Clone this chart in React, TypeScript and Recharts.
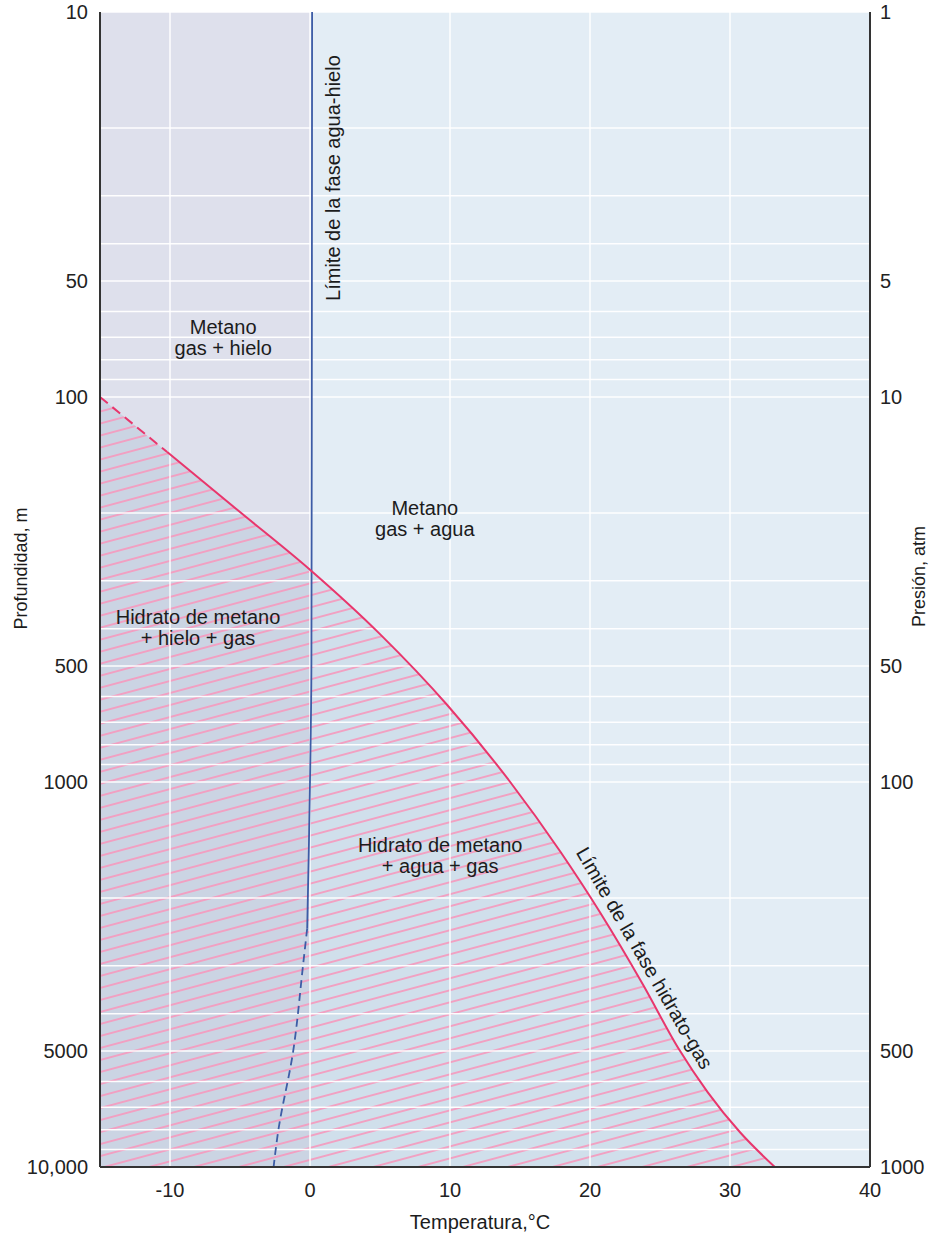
import React from 'react';
import {
  ComposedChart,
  XAxis,
  YAxis,
  CartesianGrid,
  Area,
  Line,
  ReferenceArea,
  ReferenceDot,
} from 'recharts';

const FONT = '"Liberation Sans", Arial, Helvetica, sans-serif';

// Temperature axis (°C)
const tempTicks = [-10, 0, 10, 20, 30, 40];

// Depth axis (m): every log gridline, with a labelled subset
const depthGrid = [
  10, 20, 30, 40, 50, 60, 70, 80, 90,
  100, 200, 300, 400, 500, 600, 700, 800, 900,
  1000, 2000, 3000, 4000, 5000, 6000, 7000, 8000, 9000, 10000,
];
const depthLabels = [10, 50, 100, 500, 1000, 5000, 10000];

// Pressure axis (atm)
const pressureTicks = [1, 5, 10, 50, 100, 500, 1000];

// Hydrate–gas phase boundary (temperature °C, depth m)
const hydrateDashed = [
  { t: -15, d: 100 },
  { t: -10.2, d: 139 },
];
const hydrateSolid = [
  { t: -10.2, d: 139 },
  { t: -5, d: 199 },
  { t: 0, d: 281 },
  { t: 5, d: 413 },
  { t: 9.8, d: 631 },
  { t: 14.3, d: 1000 },
  { t: 17.9, d: 1520 },
  { t: 20.7, d: 2176 },
  { t: 23.8, d: 3367 },
  { t: 26.3, d: 4909 },
  { t: 28.4, d: 6388 },
  { t: 30.7, d: 8113 },
  { t: 33.2, d: 10000 },
];
const hydrateZone = [...hydrateDashed, ...hydrateSolid.slice(1)];

// Water–ice phase boundary
const iceSolid = [
  { t: 0.15, d: 10 },
  { t: 0.1, d: 500 },
  { t: 0, d: 1000 },
  { t: -0.1, d: 1600 },
  { t: -0.2, d: 2400 },
];
const iceDashed = [
  { t: -0.2, d: 2400 },
  { t: -0.5, d: 3000 },
  { t: -1.2, d: 5000 },
  { t: -2.3, d: 8200 },
  { t: -2.6, d: 10000 },
];

// Phase-field names
const regionNotes = [
  { t: -6.2, d: 70, lines: ['Metano', 'gas + hielo'] },
  { t: 8.2, d: 207, lines: ['Metano', 'gas + agua'] },
  { t: -8, d: 396, lines: ['Hidrato de metano', '+ hielo + gas'] },
  { t: 9.3, d: 1556, lines: ['Hidrato de metano', '+ agua + gas'] },
];

// Boundary captions
const boundaryNotes = [
  { t: 1.64, d: 27, lines: ['Límite de la fase agua-hielo'], angle: -90 },
  { t: 23.9, d: 2865, lines: ['Límite de la fase hidrato-gas'], angle: 60 },
];

const TEXT = '#1c1c1c';
const HYDRATE = '#e8366c';
const ICE = '#3d5ca6';
const BORDER = '#333';

const NoteText = (props: any) => {
  const { viewBox, lines, angle = 0, size = 20 } = props;
  if (!viewBox) return null;
  const cx = viewBox.x + (viewBox.width || 0) / 2;
  const cy = viewBox.y + (viewBox.height || 0) / 2;
  const lh = 21;
  return (
    <text
      x={cx}
      y={cy}
      textAnchor="middle"
      dominantBaseline="central"
      fontSize={size}
      fontFamily={FONT}
      fill={TEXT}
      transform={angle ? `rotate(${angle} ${cx} ${cy})` : undefined}
    >
      {lines.map((l: string, i: number) => (
        <tspan
          key={i}
          x={cx}
          y={cy + (i - (lines.length - 1) / 2) * lh}
          dominantBaseline="central"
        >
          {l}
        </tspan>
      ))}
    </text>
  );
};

const depthTickFormat = (v: number) =>
  depthLabels.includes(v) ? (v === 10000 ? '10,000' : String(v)) : '';

const DepthTitle = (props: any) => {
  const vb = props.viewBox;
  if (!vb) return null;
  const x = vb.x + 21;
  const y = vb.y + vb.height / 2 - 21;
  return (
    <text
      x={x}
      y={y}
      textAnchor="middle"
      dominantBaseline="central"
      fontSize={18}
      fontFamily={FONT}
      fill={TEXT}
      transform={`rotate(-90 ${x} ${y})`}
    >
      Profundidad, m
    </text>
  );
};

const PressureTitle = (props: any) => {
  const vb = props.viewBox;
  if (!vb) return null;
  const x = vb.x + 49;
  const y = vb.y + vb.height / 2 - 13;
  return (
    <text
      x={x}
      y={y}
      textAnchor="middle"
      dominantBaseline="central"
      fontSize={18}
      fontFamily={FONT}
      fill={TEXT}
      transform={`rotate(-90 ${x} ${y})`}
    >
      Presión, atm
    </text>
  );
};

const TempTitle = (props: any) => {
  const vb = props.viewBox;
  if (!vb) return null;
  const x = vb.x + vb.width / 2 - 5;
  const y = vb.y + 55;
  return (
    <text
      x={x}
      y={y}
      textAnchor="middle"
      dominantBaseline="central"
      fontSize={20}
      fontFamily={FONT}
      fill={TEXT}
    >
      Temperatura,°C
    </text>
  );
};

const tickStyle = { fontSize: 20, fill: '#222', fontFamily: FONT };

export default function App() {
  return (
    <div
      style={{
        position: 'absolute',
        left: 0,
        top: 0,
        width: 930,
        height: 1238,
        background: '#fff',
        overflow: 'hidden',
      }}
    >
      <ComposedChart
        width={930}
        height={1238}
        margin={{ top: 12, right: 0, bottom: 0, left: 0 }}
        style={{ fontFamily: FONT }}
      >
        <defs>
          <pattern
            id="hydrateHatch"
            patternUnits="userSpaceOnUse"
            width="24"
            height="11.6"
            patternTransform="rotate(-15)"
          >
            <rect width="24" height="11.6" fill="#4f86aa" fillOpacity="0.13" />
            <line x1="0" y1="5.8" x2="24" y2="5.8" stroke="#f49cbf" strokeWidth="1.8" />
          </pattern>
        </defs>

        <XAxis
          type="number"
          dataKey="t"
          domain={[-15, 40]}
          allowDataOverflow
          ticks={tempTicks}
          interval={0}
          height={71}
          tickLine={false}
          tickMargin={10}
          tick={tickStyle}
          axisLine={{ stroke: BORDER, strokeWidth: 2 }}
          label={(p: any) => <TempTitle {...p} />}
        />
        <XAxis
          xAxisId="top"
          orientation="top"
          type="number"
          domain={[-15, 40]}
          allowDataOverflow
          height={0}
          tick={false}
          tickLine={false}
          axisLine={{ stroke: '#444', strokeWidth: 2 }}
        />
        <YAxis
          yAxisId="d"
          type="number"
          scale="log"
          domain={[10, 10000]}
          allowDataOverflow
          reversed
          ticks={depthGrid}
          interval={0}
          width={100}
          tickLine={false}
          tickMargin={6}
          tick={tickStyle}
          tickFormatter={depthTickFormat}
          axisLine={{ stroke: BORDER, strokeWidth: 2 }}
          label={(p: any) => <DepthTitle {...p} />}
        />
        <YAxis
          yAxisId="p"
          orientation="right"
          type="number"
          scale="log"
          domain={[1, 1000]}
          allowDataOverflow
          reversed
          ticks={pressureTicks}
          interval={0}
          width={60}
          tickLine={false}
          tickMargin={4}
          tick={{ ...tickStyle, textAnchor: 'start' }}
          axisLine={{ stroke: BORDER, strokeWidth: 2 }}
          label={(p: any) => <PressureTitle {...p} />}
        />

        {/* Field backgrounds: below and above the freezing point */}
        <ReferenceArea
          yAxisId="d"
          x1={-15}
          x2={0}
          fill="#dee0ec"
          fillOpacity={1}
          stroke="none"
          zIndex={-300}
        />
        <ReferenceArea
          yAxisId="d"
          x1={0}
          x2={40}
          fill="#e3edf5"
          fillOpacity={1}
          stroke="none"
          zIndex={-300}
        />

        {/* Hydrate stability zone */}
        <Area
          yAxisId="d"
          data={hydrateZone}
          dataKey="d"
          type="monotone"
          baseValue={10000}
          fill="url(#hydrateHatch)"
          fillOpacity={1}
          stroke="none"
          isAnimationActive={false}
          zIndex={-200}
        />

        <CartesianGrid
          yAxisId="d"
          stroke="#ffffff"
          strokeWidth={1.5}
          strokeOpacity={0.95}
          fill="none"
          zIndex={-100}
        />

        {/* Water–ice boundary */}
        <Line
          yAxisId="d"
          data={iceSolid}
          dataKey="d"
          type="monotoneY"
          stroke={ICE}
          strokeWidth={1.8}
          dot={false}
          activeDot={false}
          isAnimationActive={false}
        />
        <Line
          yAxisId="d"
          data={iceDashed}
          dataKey="d"
          type="monotoneY"
          stroke={ICE}
          strokeWidth={1.8}
          strokeDasharray="8 5"
          dot={false}
          activeDot={false}
          isAnimationActive={false}
        />

        {/* Hydrate–gas boundary */}
        <Line
          yAxisId="d"
          data={hydrateDashed}
          dataKey="d"
          type="linear"
          stroke={HYDRATE}
          strokeWidth={2}
          strokeDasharray="10 6"
          dot={false}
          activeDot={false}
          isAnimationActive={false}
        />
        <Line
          yAxisId="d"
          data={hydrateSolid}
          dataKey="d"
          type="monotone"
          stroke={HYDRATE}
          strokeWidth={2}
          dot={false}
          activeDot={false}
          isAnimationActive={false}
        />

        {regionNotes.map((n, i) => (
          <ReferenceDot
            key={`r${i}`}
            yAxisId="d"
            x={n.t}
            y={n.d}
            r={0}
            fill="none"
            stroke="none"
            label={(p: any) => <NoteText {...p} lines={n.lines} />}
          />
        ))}
        {boundaryNotes.map((n, i) => (
          <ReferenceDot
            key={`b${i}`}
            yAxisId="d"
            x={n.t}
            y={n.d}
            r={0}
            fill="none"
            stroke="none"
            label={(p: any) => <NoteText {...p} lines={n.lines} angle={n.angle} />}
          />
        ))}
      </ComposedChart>
    </div>
  );
}
